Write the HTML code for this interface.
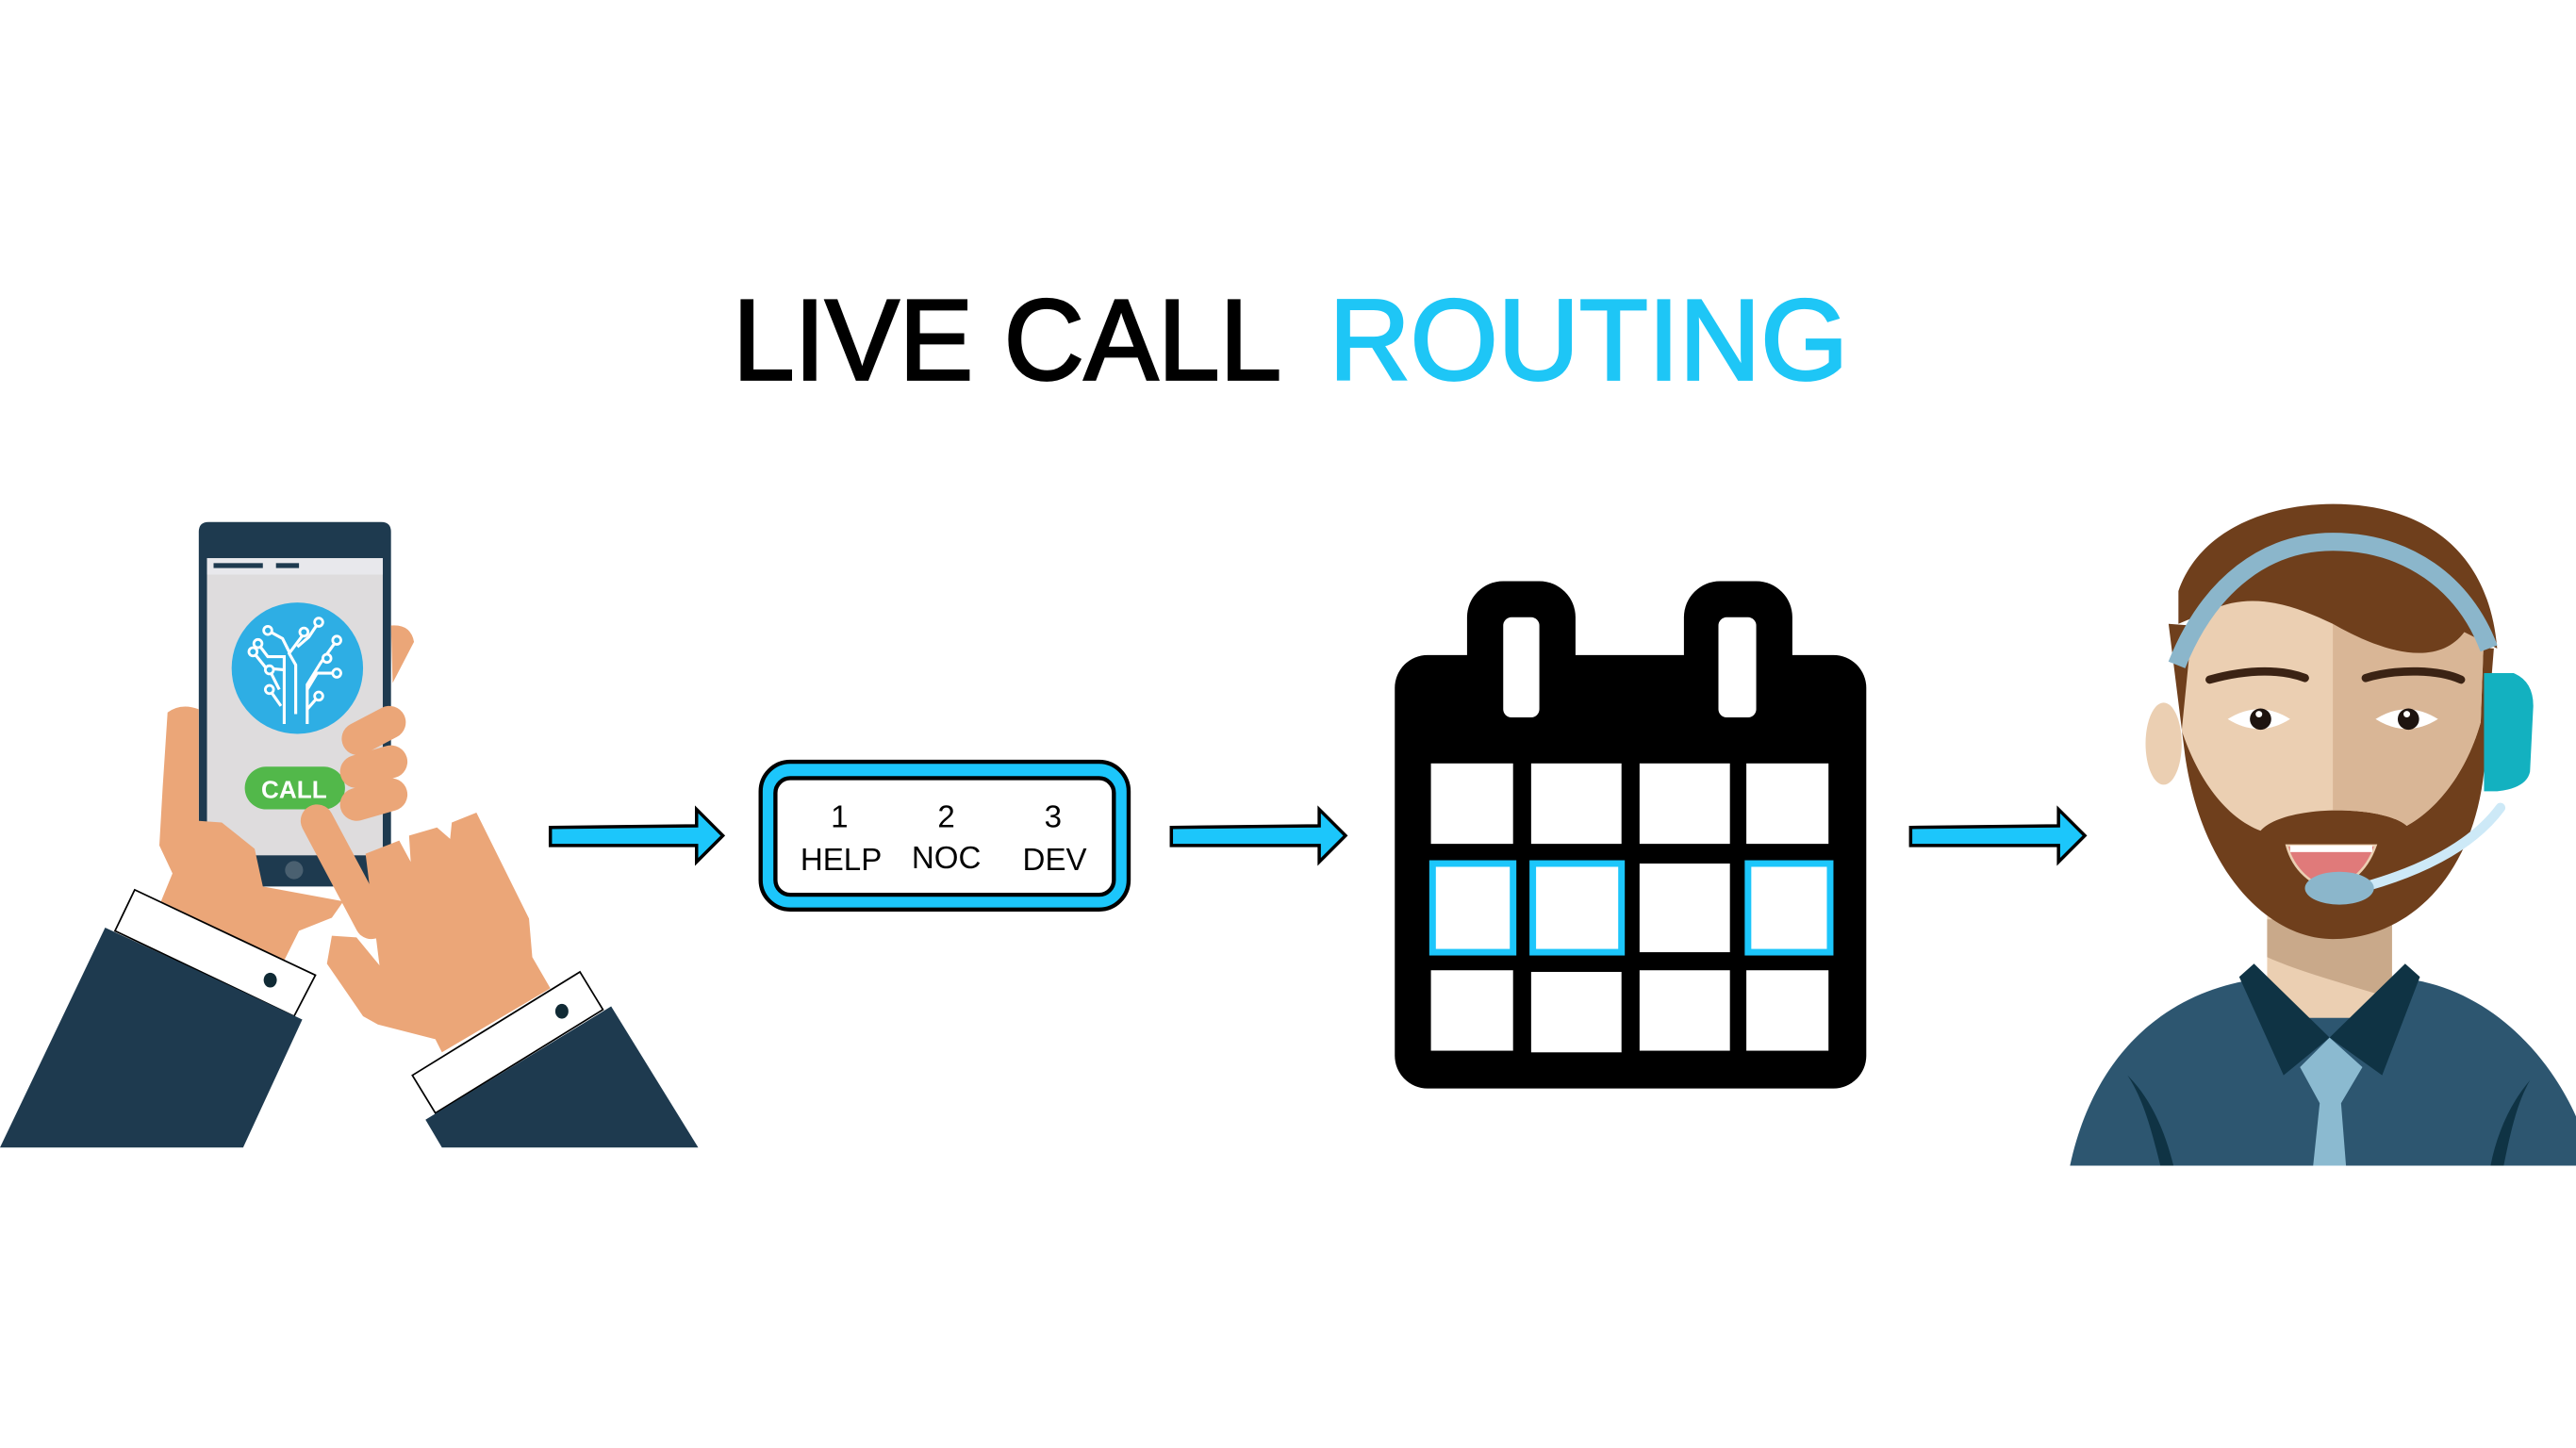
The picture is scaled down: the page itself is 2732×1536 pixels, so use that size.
<!DOCTYPE html>
<html><head><meta charset="utf-8"><style>html,body{margin:0;padding:0;background:#fff}svg{display:block}</style></head>
<body>
<svg width="2732" height="1536" viewBox="0 0 1568 882" preserveAspectRatio="none" xmlns="http://www.w3.org/2000/svg">
<rect width="1568" height="882" fill="#fff"/>
<!-- Title -->
<text x="446" y="231" font-family="Liberation Sans, sans-serif" font-size="70" fill="#000" stroke="#000" stroke-width="1.6" textLength="334" lengthAdjust="spacingAndGlyphs">LIVE CALL</text>
<text x="809" y="231" font-family="Liberation Sans, sans-serif" font-size="70" fill="#1ec6f6" stroke="#1ec6f6" stroke-width="1.6" textLength="316" lengthAdjust="spacingAndGlyphs">ROUTING</text>

<!-- Arrows -->
<g fill="#1cc6fb" stroke="#000" stroke-width="2">
<path d="M335,504 L424,503 L424,493 L440,509 L424,525 L424,515 L335,515 Z"/>
<path d="M713,504 L803,503 L803,493 L819,509 L803,525 L803,515 L713,515 Z"/>
<path d="M1163,504 L1253,503 L1253,493 L1269,509 L1253,525 L1253,515 L1163,515 Z"/>
</g>

<!-- Menu box -->
<rect x="463" y="464" width="224" height="90" rx="18" fill="#1cc6fb" stroke="#000" stroke-width="2.5"/>
<rect x="472" y="474" width="206" height="71" rx="9" fill="#fff" stroke="#000" stroke-width="2.5"/>
<g font-family="Liberation Sans, sans-serif" font-size="19" fill="#000" text-anchor="middle">
<text x="511" y="504">1</text><text x="576" y="504">2</text><text x="641" y="504">3</text>
<text x="512" y="530">HELP</text><text x="576" y="529">NOC</text><text x="642" y="530">DEV</text>
</g>

<!-- Calendar -->
<rect x="849" y="399" width="287" height="264" rx="20" fill="#000"/>
<rect x="893" y="354" width="66" height="70" rx="22" fill="#000"/>
<rect x="1025" y="354" width="66" height="70" rx="22" fill="#000"/>
<rect x="915" y="376" width="22" height="61" rx="5" fill="#fff"/>
<rect x="1046" y="376" width="23" height="61" rx="5" fill="#fff"/>
<g fill="#fff">
<rect x="871" y="465" width="50" height="49"/><rect x="932" y="465" width="55" height="49"/><rect x="998" y="465" width="55" height="49"/><rect x="1063" y="465" width="50" height="49"/>
<rect x="998" y="526" width="55" height="54"/>
<rect x="871" y="591" width="50" height="49"/><rect x="932" y="592" width="55" height="49"/><rect x="998" y="591" width="55" height="49"/><rect x="1063" y="591" width="50" height="49"/>
</g>
<g fill="#fff" stroke="#1cc6fb" stroke-width="4">
<rect x="872" y="526" width="49" height="54"/><rect x="933" y="526" width="54" height="54"/><rect x="1064" y="526" width="50" height="54"/>
</g>

<!-- Left: phone + hands -->
<path d="M121,324 Q121,318 127,318 L232,318 Q238,318 238,324 L238,540 L121,540 Z" fill="#1e3a4f"/>
<rect x="126" y="340" width="107" height="181" fill="#dedcdd"/>
<rect x="126" y="340" width="107" height="10" fill="#e8e8ec"/>
<rect x="130" y="343" width="30" height="3" fill="#1e3a4f"/><rect x="168" y="343" width="14" height="3" fill="#1e3a4f"/>
<circle cx="179" cy="530" r="5.5" fill="#4a6070"/>
<ellipse cx="181" cy="407" rx="40" ry="40" fill="#2eaee4"/>
<g stroke="#fff" stroke-width="1.8" fill="none">
<path d="M173,441 L173,400 L163,400 L157,392"/><path d="M180,435 L180,405 L176,398 L185,386"/><path d="M187,441 L187,417 L195,404 L205,390"/>
<path d="M173,408 L162,407 L154,397"/><path d="M187,420 L193,410 L205,410"/><path d="M170,420 L164,408"/><path d="M171,430 L164,420"/><path d="M176,397 L172,389 L163,384"/><path d="M181,394 L188,388 L194,379"/><path d="M187,432 L194,424"/>
</g>
<g fill="#2eaee4" stroke="#fff" stroke-width="1.6"><circle cx="157" cy="392" r="2.5"/><circle cx="185" cy="385" r="2.5"/><circle cx="205" cy="390" r="2.5"/><circle cx="205" cy="410" r="2.5"/><circle cx="154" cy="397" r="2.5"/><circle cx="163" cy="384" r="2.5"/><circle cx="194" cy="379" r="2.5"/><circle cx="164" cy="408" r="2.5"/><circle cx="164" cy="420" r="2.5"/><circle cx="194" cy="424" r="2.5"/><circle cx="199" cy="401" r="2.5"/></g>
<rect x="149" y="467" width="61" height="26" rx="13" fill="#52b84a"/>
<text x="179" y="486" font-family="Liberation Sans, sans-serif" font-weight="bold" font-size="15" fill="#fff" text-anchor="middle">CALL</text>
<g fill="#eba678">
<path d="M102,434 Q110,428 121,432 L121,500 L135,501 L155,517 L160,540 L209,549 L202,559 L182,567 L173,585 L98,549 L105,532 L97,515 L99,480 Z"/>
<path d="M238,381 Q250,380 252,391 L239,416 Z"/>
</g>
<g stroke="#eba678" stroke-linecap="round" stroke-width="20" fill="none">
<line x1="218" y1="450" x2="237" y2="440"/><line x1="217" y1="470" x2="238" y2="464"/><line x1="217" y1="490" x2="238" y2="484"/>
<line x1="193" y1="500" x2="226" y2="562"/>
</g>
<path d="M222.5,520 L243,512 L250,525 L249,509 L266,504 L274,511 L275,501 L290,495 L293,501 L322,559.5 L324,583 L335,602 L269,641 L265,633 L230,624 L221,619 L199,587 L202,570 L217,571 L231,588 Z" fill="#eba678"/>
<path d="M82,542 L192,594 L179,619 L70,567 Z" fill="#fff" stroke="#000" stroke-width="1"/>
<path d="M64,565 L184,621 L148,699 L0,699 Z" fill="#1e3a4f"/>
<path d="M251,655 L353,592 L367,615 L265,678 Z" fill="#fff" stroke="#000" stroke-width="1"/>
<path d="M259,682 L372,613 L425,699 L269,699 Z" fill="#1e3a4f"/>
<ellipse cx="164.5" cy="597" rx="4" ry="4.5" fill="#102a35"/><ellipse cx="342" cy="616" rx="4" ry="4.5" fill="#102a35"/>

<!-- Right: agent -->
<path d="M1260,710 C1275,640 1320,605 1370,597 L1470,597 C1515,605 1550,640 1568,680 L1568,710 Z" fill="#2d5670"/>
<path d="M1295,655 C1310,670 1318,690 1323,710 L1315,710 C1310,690 1305,670 1295,655 Z" fill="#0f3344"/>
<path d="M1540,658 C1528,672 1520,690 1516,710 L1524,710 C1528,690 1532,672 1540,658 Z" fill="#0f3344"/>
<rect x="1380" y="540" width="76" height="80" fill="#ebcfb2"/>
<path d="M1380,560 L1456,560 L1456,600 L1462,610 C1430,600 1400,592 1380,583 Z" fill="#c9a98a"/>
<path d="M1363,595 L1372,587 L1418,632 L1390,655 Z" fill="#0f3344"/>
<path d="M1473,595 L1464,587 L1418,632 L1450,655 Z" fill="#0f3344"/>
<path d="M1418,632 L1400,650 L1412,672 L1408,710 L1428,710 L1425,672 L1438,650 Z" fill="#8bbad0"/>
<ellipse cx="1317" cy="453" rx="11" ry="25" fill="#ebcfb2"/>
<path d="M1320,380 L1330,460 C1340,530 1380,572 1420,572 C1465,572 1505,535 1512,470 L1518,395 Z" fill="#6f3f1c"/>
<defs><clipPath id="rh"><rect x="1420" y="300" width="120" height="300"/></clipPath>
<path id="face" d="M1336,365 C1380,345 1430,355 1512,385 L1510,440 C1500,475 1480,495 1465,503 C1450,490 1390,490 1376,506 C1355,498 1338,475 1328,445 Z"/></defs>
<use href="#face" fill="#ebcfb2"/>
<use href="#face" fill="#d9b696" clip-path="url(#rh)"/>
<path d="M1326,360 C1340,320 1385,307 1420,307 C1475,307 1515,335 1520,395 L1500,385 C1485,405 1455,400 1420,380 C1395,368 1370,360 1345,372 L1326,380 Z" fill="#6f3f1c"/>
<path d="M1325,405 C1345,355 1380,330 1420,330 C1465,330 1500,355 1515,395" fill="none" stroke="#8bb6cb" stroke-width="11"/>
<path d="M1512,410 L1530,410 Q1542,415 1542,430 L1540,470 Q1538,480 1520,482 L1512,482 Z" fill="#13b1c0"/>
<g stroke="#3b2314" stroke-width="5" stroke-linecap="round" fill="none">
<path d="M1345,414 C1370,407 1390,408 1403,413"/><path d="M1440,413 C1460,407 1485,408 1498,414"/>
</g>
<path d="M1356,438 Q1375,426 1394,438 Q1375,450 1356,438 Z" fill="#fff"/>
<path d="M1446,438 Q1465,426 1484,438 Q1465,450 1446,438 Z" fill="#fff"/>
<circle cx="1376" cy="438" r="6.5" fill="#1e1410"/><circle cx="1466" cy="438" r="6.5" fill="#1e1410"/>
<circle cx="1375" cy="435" r="2" fill="#fff"/><circle cx="1465" cy="435" r="2" fill="#fff"/>
<path d="M1392,515 L1446,515 C1440,532 1428,540 1418,540 C1408,540 1396,530 1392,515 Z" fill="#e07a7a" stroke="#ebcfb2" stroke-width="1.5"/>
<rect x="1394" y="515" width="50" height="4" fill="#fff"/>
<path d="M1440,540 C1475,530 1505,515 1522,492" fill="none" stroke="#cde9f7" stroke-width="6" stroke-linecap="round"/>
<ellipse cx="1424" cy="541" rx="21" ry="10" fill="#8bb6cb"/>
</svg>
</body></html>
